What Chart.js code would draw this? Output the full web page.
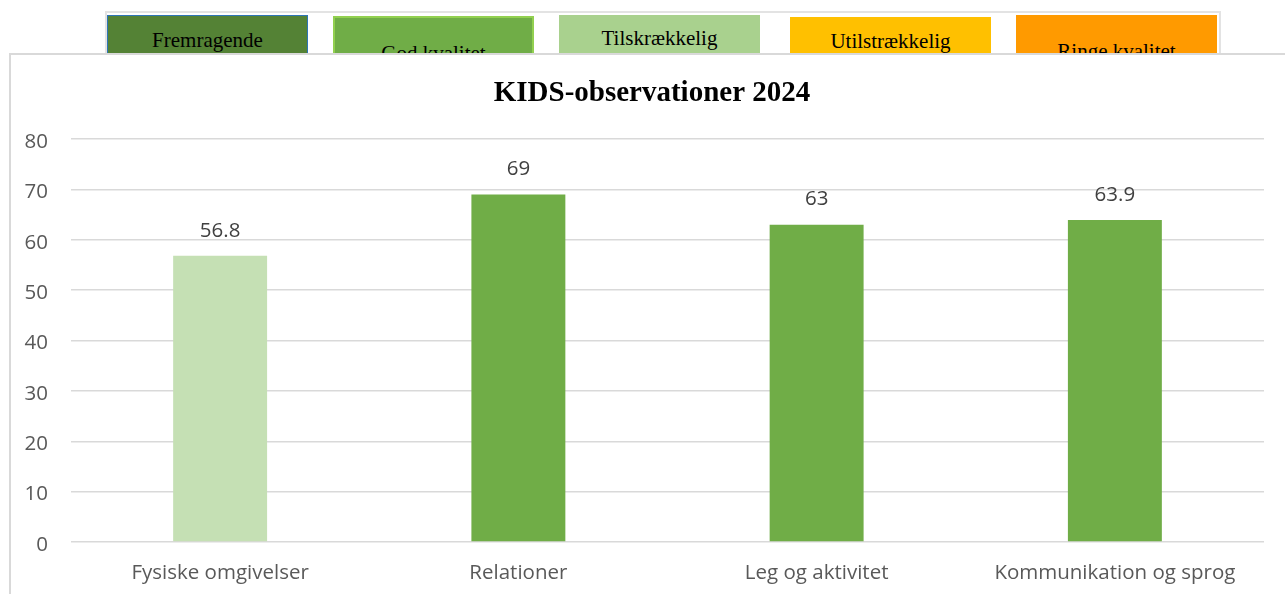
<!DOCTYPE html>
<html>
<head>
<meta charset="utf-8">
<script src="https://cdn.jsdelivr.net/npm/chart.js@4.4.1/dist/chart.umd.min.js"></script>
<style>
  html, body { margin: 0; padding: 0; background: #ffffff; width: 1285px; height: 594px; overflow: hidden; position: relative; }
  #legendFrame { position: absolute; left: 105px; top: 11px; width: 1112px; height: 60px; border-top: 2px solid #E3E3E3; border-right: 2px solid #E3E3E3; border-left: 2px solid #E3E3E3; z-index: 1; }
  .lbox { position: absolute; height: 50px; z-index: 2; box-sizing: border-box; }
  .ltext { position: absolute; left: 0; right: 0; text-align: center; font-family: "Liberation Serif", "Times New Roman", serif; font-size: 21px; line-height: 21px; color: #000; white-space: nowrap; }
  #chartFrame { position: absolute; left: 9px; top: 53px; width: 1300px; height: 600px; border: 2px solid #D9D9D9; background: #ffffff; z-index: 5; }
  #chartWrap { position: absolute; left: 0; top: 0; width: 1274px; height: 539px; }
</style>
</head>
<body>
<div id="legendFrame"></div>
<div id="legend"></div>
<div id="chartFrame"><div id="chartWrap"><canvas id="c"></canvas></div></div>
<script>
// ---- data ----
const categories = ["Fysiske omgivelser", "Relationer", "Leg og aktivitet", "Kommunikation og sprog"];
const values = [56.8, 69, 63, 63.9];
const barColors = ["#C5E0B4", "#70AD47", "#70AD47", "#70AD47"];
const yTicks = [0, 10, 20, 30, 40, 50, 60, 70, 80];
const chartTitle = "KIDS-observationer 2024";

// quality scale boxes shown above the chart
const qualityLabels = ["Fremragende", "God kvalitet", "Tilskrækkelig", "Utilstrækkelig", "Ringe kvalitet"];
const qualityColors = ["#548235", "#70AD47", "#A9D18E", "#FFC000", "#FF9A00"];
const qualityBorders = ["#2E75B6", "#92D050", "#A9D18E", "#FFC000", "#FF9A00"];
const qualityBoxLeft = [107, 333, 559, 790, 1016];
const qualityBoxTop = [15, 16, 15, 17, 15];
const qualityTextTop = [29, 41, 27, 30, 40];

// build the legend boxes
const legend = document.getElementById('legend');
qualityLabels.forEach((lab, i) => {
  const b = document.createElement('div');
  b.className = 'lbox';
  b.style.left = qualityBoxLeft[i] + 'px';
  b.style.top = qualityBoxTop[i] + 'px';
  b.style.width = '201px';
  b.style.background = qualityColors[i];
  b.style.border = (i === 1 ? '2px' : '1px') + ' solid ' + qualityBorders[i];
  const t = document.createElement('div');
  t.className = 'ltext';
  t.style.top = (qualityTextTop[i] - qualityBoxTop[i]) + 'px';
  t.textContent = lab;
  b.appendChild(t);
  legend.appendChild(b);
});

const AXIS_FONT = "'Open Sans', 'Liberation Sans', sans-serif";

const valueLabels = {
  id: 'valueLabels',
  afterDatasetsDraw(chart) {
    const ctx = chart.ctx;
    const meta = chart.getDatasetMeta(0);
    ctx.save();
    ctx.font = "20.5px " + AXIS_FONT;
    ctx.fillStyle = '#404040';
    ctx.textAlign = 'center';
    ctx.textBaseline = 'middle';
    meta.data.forEach((bar, i) => {
      ctx.fillText(String(values[i]), bar.x, bar.y - 25);
    });
    ctx.restore();
  }
};

// chart title drawn centred on the chart frame (not just the plot box)
const frameTitle = {
  id: 'frameTitle',
  afterDraw(chart) {
    const ctx = chart.ctx;
    ctx.save();
    ctx.font = "bold 29px 'Liberation Serif', 'Times New Roman', serif";
    ctx.fillStyle = '#000000';
    ctx.textAlign = 'center';
    ctx.textBaseline = 'middle';
    ctx.fillText(chartTitle, 641, 38.5);
    ctx.restore();
  }
};

new Chart(document.getElementById('c'), {
  type: 'bar',
  data: {
    labels: categories,
    datasets: [{
      data: values,
      backgroundColor: barColors,
      borderWidth: 0,
      categoryPercentage: 1.0,
      barPercentage: 0.315
    }]
  },
  options: {
    responsive: true,
    maintainAspectRatio: false,
    animation: false,
    devicePixelRatio: 1,
    layout: { padding: { left: 0, right: 21, top: 84, bottom: 0 } },
    plugins: {
      legend: { display: false },
      tooltip: { enabled: false },
      title: { display: false }
    },
    scales: {
      x: {
        grid: { display: false },
        border: { display: false },
        ticks: {
          color: '#595959',
          font: { family: AXIS_FONT, size: 20.5 },
          padding: 11,
          maxRotation: 0,
          autoSkip: false
        },
        afterFit(scale) { scale.height = 52; }
      },
      y: {
        min: 0,
        max: 80,
        afterBuildTicks(scale) { scale.ticks = yTicks.map(v => ({ value: v })); },
        grid: { color: '#D9D9D9', lineWidth: 1.5, drawTicks: false },
        border: { display: false },
        ticks: {
          color: '#595959',
          font: { family: AXIS_FONT, size: 20.5 },
          padding: 23,
          labelOffset: 3
        },
        afterFit(scale) { scale.width = 60; }
      }
    }
  },
  plugins: [valueLabels, frameTitle]
});
</script>
</body>
</html>
